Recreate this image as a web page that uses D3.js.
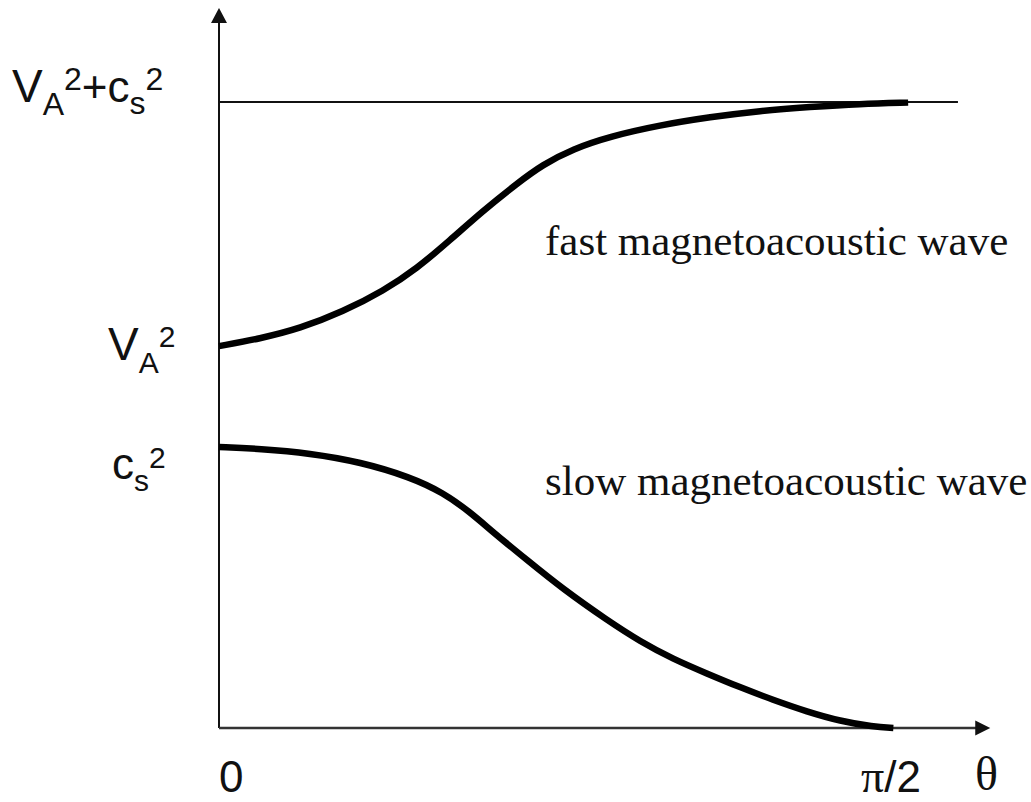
<!DOCTYPE html>
<html>
<head>
<meta charset="utf-8">
<script src="https://cdn.jsdelivr.net/npm/d3@7"></script>
<style>
  html, body { margin: 0; padding: 0; background: #fff; }
  svg { display: block; }
</style>
</head>
<body>
<div id="chart"></div>
<script>
// theta as a fraction of pi/2, phase speed squared as a fraction of VA^2+cs^2
var fastTheta = [0, 0.061, 0.120, 0.184, 0.244, 0.294, 0.343, 0.392, 0.443, 0.481, 0.526, 0.581, 0.655, 0.730, 0.804, 0.878, 0.952, 1.024];
var fastValue = [0.610, 0.622, 0.638, 0.665, 0.698, 0.734, 0.779, 0.826, 0.870, 0.900, 0.925, 0.945, 0.963, 0.976, 0.986, 0.992, 0.997, 0.999];
var slowTheta = [0, 0.061, 0.135, 0.210, 0.284, 0.333, 0.373, 0.407, 0.458, 0.511, 0.577, 0.626, 0.675, 0.725, 0.774, 0.823, 0.874, 0.923, 0.972, 1.002];
var slowValue = [0.449, 0.446, 0.439, 0.425, 0.401, 0.376, 0.345, 0.313, 0.268, 0.222, 0.172, 0.138, 0.110, 0.087, 0.065, 0.045, 0.026, 0.011, 0.002, 0];

var xTicks = [0, 1];
var xTickLabels = ["0", "\u03c0/2"];
var levelValues = [1, 0.610, 0.449];   // VA^2+cs^2, VA^2, cs^2
var curveLabels = ["fast magnetoacoustic wave", "slow magnetoacoustic wave"];

var width = 1031, height = 802;
var x = d3.scaleLinear().domain([0, 1]).range([219, 892]);
var y = d3.scaleLinear().domain([0, 1]).range([728, 102]);
var xEnd = 1.146, yEnd = 1.15, levelEnd = 1.098;

var svg = d3.select("#chart").append("svg")
    .attr("width", width).attr("height", height);
svg.append("rect").attr("width", width).attr("height", height).attr("fill", "#fff");

// axes with arrow heads
svg.append("line")
    .attr("x1", x(0)).attr("y1", y(0)).attr("x2", x(0)).attr("y2", y(yEnd) + 12)
    .attr("stroke", "#111").attr("stroke-width", 2);
svg.append("line")
    .attr("x1", x(0)).attr("y1", y(0)).attr("x2", x(xEnd) - 12).attr("y2", y(0))
    .attr("stroke", "#333").attr("stroke-width", 2.5);
svg.append("path")
    .attr("d", "M" + x(0) + "," + y(yEnd) + "l-8,15h16z").attr("fill", "#111");
svg.append("path")
    .attr("d", "M" + x(xEnd) + "," + y(0) + "l-15,-7.5v15z").attr("fill", "#111");

// VA^2+cs^2 level
svg.append("line")
    .attr("x1", x(0)).attr("y1", y(levelValues[0])).attr("x2", x(levelEnd)).attr("y2", y(levelValues[0]))
    .attr("stroke", "#111").attr("stroke-width", 2);

var line = d3.line()
    .x(function (d) { return x(d[0]); })
    .y(function (d) { return y(d[1]); })
    .curve(d3.curveBasis);

var series = [d3.zip(fastTheta, fastValue), d3.zip(slowTheta, slowValue)];
svg.selectAll("path.wave").data(series).enter().append("path")
    .attr("class", "wave")
    .attr("d", line)
    .attr("fill", "none")
    .attr("stroke", "#000")
    .attr("stroke-width", 6.5);

// curve labels
svg.selectAll("text.curveLabel").data(curveLabels).enter().append("text")
    .attr("class", "curveLabel")
    .attr("x", 545)
    .attr("y", function (d, i) { return i === 0 ? 255 : 495; })
    .attr("font-family", "'Liberation Serif', 'Times New Roman', serif")
    .attr("font-size", 43)
    .attr("fill", "#111")
    .text(function (d) { return d; });

// y level labels built from tspans
var sans = "'Liberation Sans', Arial, sans-serif";
function levelLabel(parts, xPos, yPos) {
    var t = svg.append("text").attr("x", xPos).attr("y", yPos)
        .attr("font-family", sans).attr("fill", "#111");
    parts.forEach(function (p) {
        t.append("tspan")
            .attr("font-size", p[2])
            .attr("dy", p[1])
            .text(p[0]);
    });
}
// [text, dy relative to previous, size]
levelLabel([["V", 0, 46], ["A", 13, 32], ["2", -25, 32], ["+", 12, 44], ["c", 0, 44], ["s", 12, 32], ["2", -24, 32]],
    12, y(levelValues[0]));
levelLabel([["V", 0, 46], ["A", 13, 30], ["2", -26, 30]], 108, y(levelValues[1]) + 14);
levelLabel([["c", 0, 44], ["s", 12, 30], ["2", -23, 30]], 112, y(levelValues[2]) + 32);

// x tick labels
svg.selectAll("text.xtick").data(xTicks).enter().append("text")
    .attr("class", "xtick")
    .attr("x", function (d) { return d === 0 ? x(d) : x(d) - 31; })
    .attr("y", 792)
    .attr("fill", "#111")
    .each(function (d, i) {
        var t = d3.select(this);
        if (i === 0) {
            t.attr("font-family", sans).attr("font-size", 44).text(xTickLabels[i]);
        } else {
            t.append("tspan").attr("font-family", "'Liberation Serif', serif").attr("font-size", 46).text("\u03c0");
            t.append("tspan").attr("font-family", sans).attr("font-size", 44).text("/2");
        }
    });

svg.append("text")
    .attr("x", 975).attr("y", 790)
    .attr("font-family", "'Liberation Serif', 'Times New Roman', serif")
    .attr("font-size", 48)
    .attr("fill", "#111")
    .text("\u03b8");
</script>
</body>
</html>
